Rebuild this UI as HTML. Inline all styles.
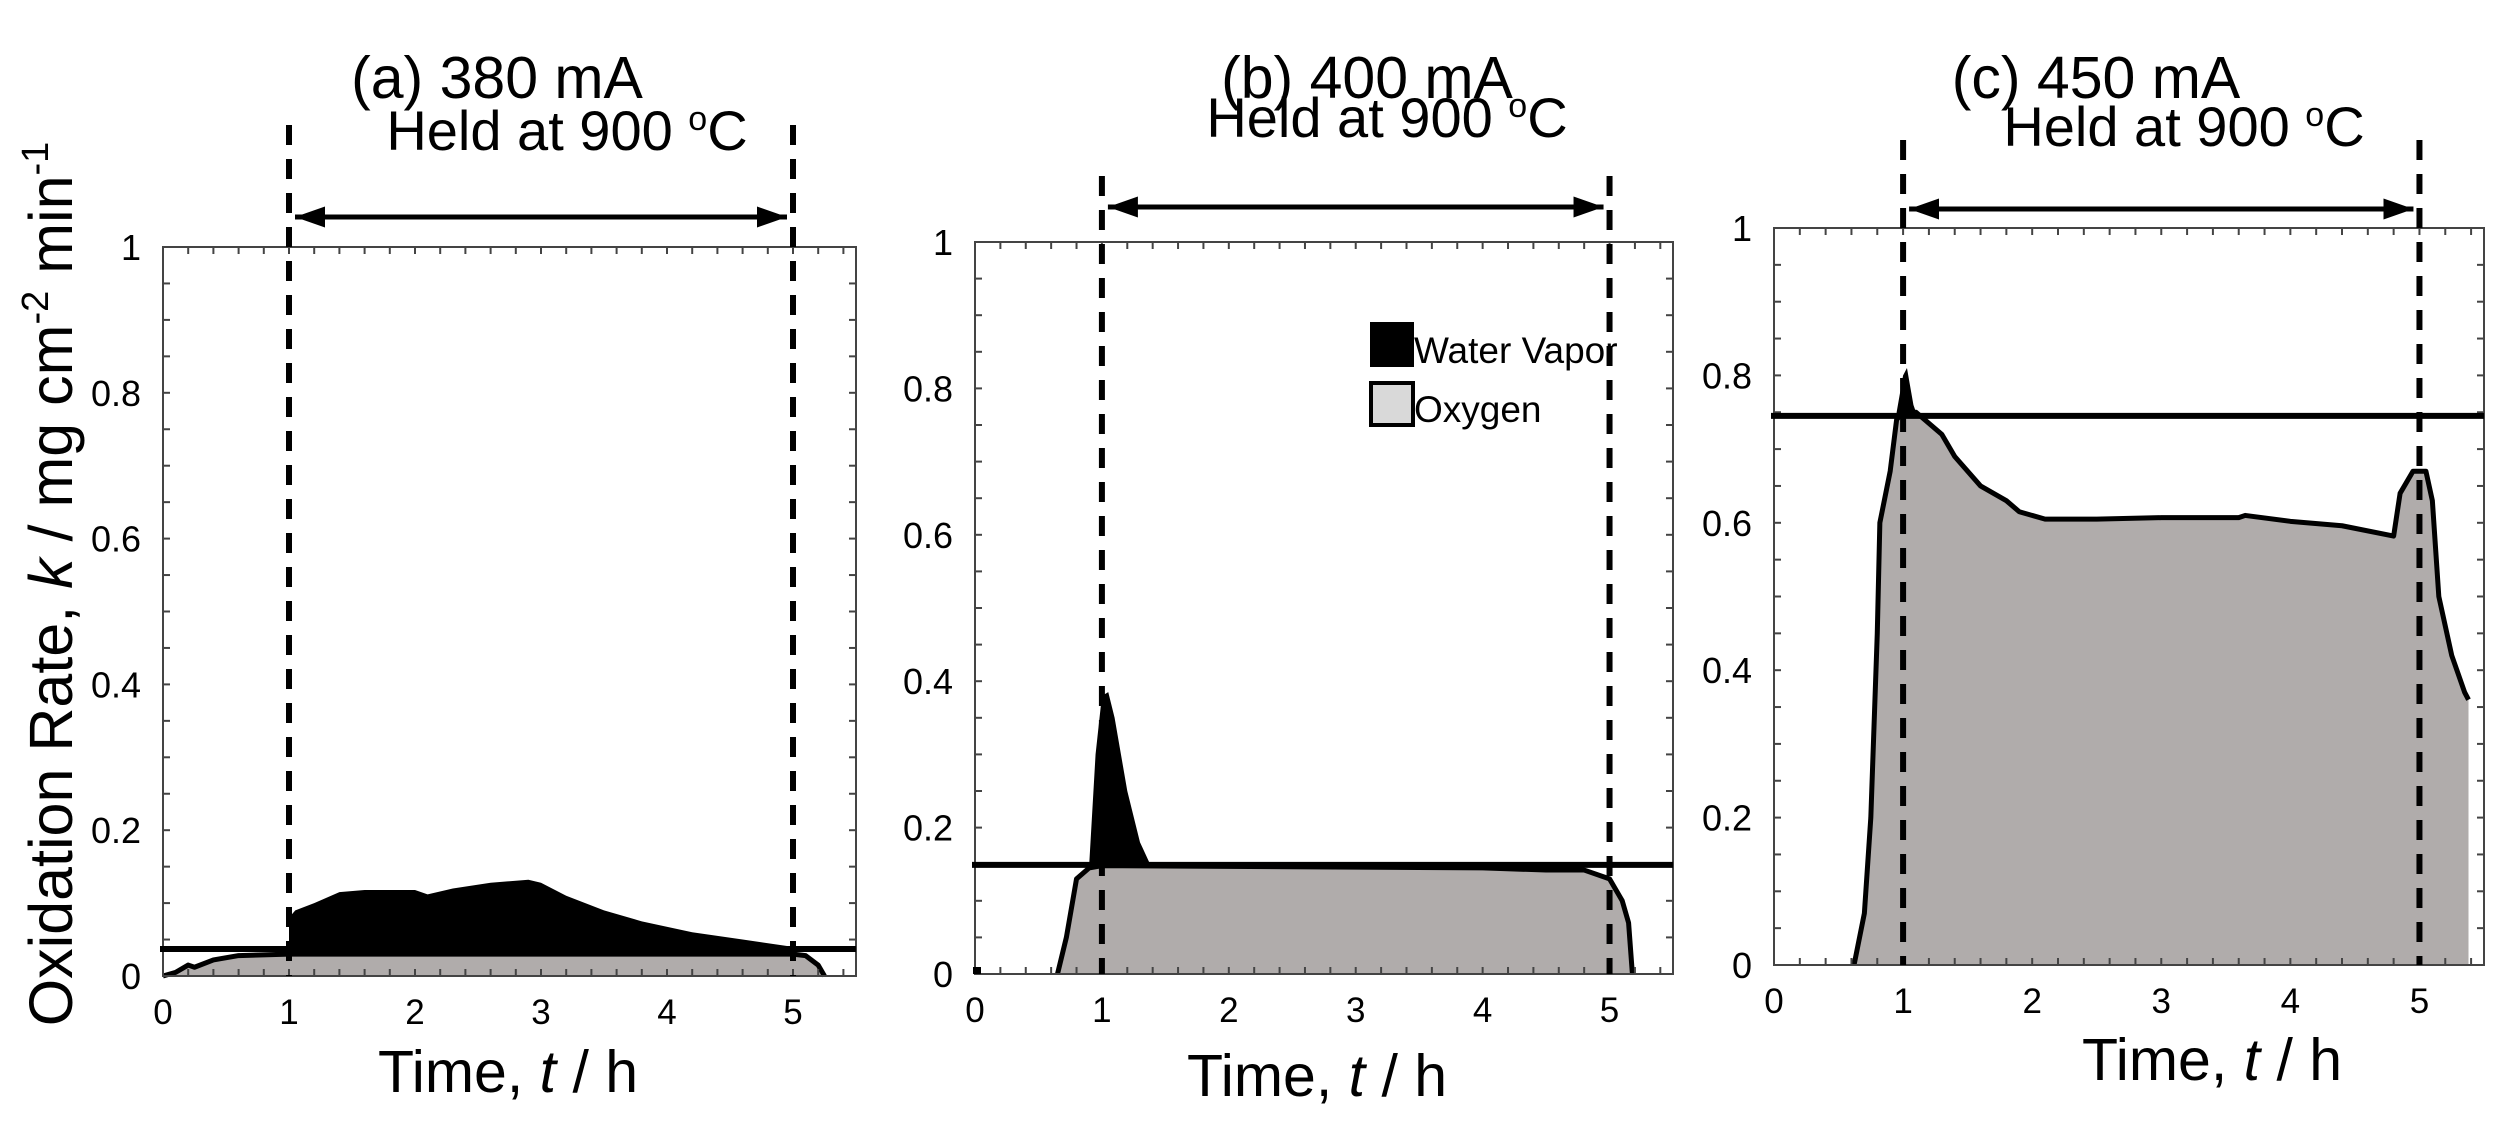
<!DOCTYPE html>
<html><head><meta charset="utf-8"><style>
html,body{margin:0;padding:0;background:#fff;}
svg{display:block;font-family:"Liberation Sans",sans-serif;}
</style></head><body>
<svg id="fig" width="2514" height="1126" viewBox="0 0 2514 1126" xmlns="http://www.w3.org/2000/svg"></svg>
<script>
// ---- data ----
const panelTitles = ["(a) 380 mA", "(b) 400 mA", "(c) 450 mA"];
const xTicks = [0, 1, 2, 3, 4, 5];
const yTicks = [0, 0.2, 0.4, 0.6, 0.8, 1];
const yTickLabels = ["0", "0.2", "0.4", "0.6", "0.8", "1"];
const holdStart = 1, holdEnd = 5;
const refLevels = [0.037, 0.149, 0.745];

const oxyT_a = [0, 0.1, 0.2, 0.25, 0.4, 0.6, 1, 5, 5.1, 5.2, 5.25];
const oxyV_a = [0, 0.005, 0.015, 0.012, 0.022, 0.028, 0.03, 0.03, 0.028, 0.015, 0];
const wvT_a = [1, 1.05, 1.2, 1.4, 1.6, 2.0, 2.1, 2.3, 2.6, 2.9, 3.0, 3.2, 3.5, 3.8, 4.2, 4.6, 5.0];
const wvV_a = [0.08, 0.09, 0.1, 0.115, 0.118, 0.118, 0.112, 0.12, 0.128, 0.132, 0.128, 0.11, 0.09, 0.075, 0.06, 0.05, 0.04];

const oxyT_b = [0.65, 0.72, 0.8, 0.9, 1, 2, 3, 4, 4.5, 4.8, 5.0, 5.1, 5.15, 5.18];
const oxyV_b = [0, 0.05, 0.13, 0.145, 0.148, 0.147, 0.146, 0.145, 0.142, 0.142, 0.13, 0.1, 0.07, 0];
const wvT_b = [0.9, 0.95, 1.0, 1.05, 1.1, 1.2, 1.3, 1.38];
const wvV_b = [0.15, 0.3, 0.38, 0.385, 0.35, 0.25, 0.18, 0.15];

const oxyT_c = [0.62, 0.7, 0.75, 0.8, 0.82, 0.9, 0.95, 1.0, 1.1, 1.3, 1.4, 1.6, 1.8, 1.9, 2.1, 2.5, 3.0, 3.6, 3.65, 4.0, 4.4, 4.8, 4.85, 4.95, 5.05, 5.1, 5.15, 5.25, 5.35, 5.38];
const oxyV_c = [0, 0.07, 0.2, 0.45, 0.6, 0.67, 0.74, 0.75, 0.75, 0.72, 0.69, 0.65, 0.63, 0.615, 0.605, 0.605, 0.607, 0.607, 0.61, 0.602, 0.596, 0.582, 0.64, 0.67, 0.67, 0.63, 0.5, 0.42, 0.37, 0.36];
const wvT_c = [0.95, 1.0, 1.03, 1.08, 1.1];
const wvV_c = [0.75, 0.8, 0.81, 0.76, 0.75];

const panels = [
 {L:163, R:856, T:247, B:976, dashTop:125, arrowY:217, titleX:497, titleY:98, heldX:567, heldY:150, xlabX:508, xlabY:1092,
  oxyT:oxyT_a, oxyV:oxyV_a, wvT:wvT_a, wvV:wvV_a},
 {L:975, R:1673, T:242, B:974, dashTop:176, arrowY:207, titleX:1367, titleY:98, heldX:1387, heldY:137, xlabX:1317, xlabY:1096,
  oxyT:oxyT_b, oxyV:oxyV_b, wvT:wvT_b, wvV:wvV_b},
 {L:1774, R:2484, T:228, B:965, dashTop:140, arrowY:209, titleX:2096, titleY:98, heldX:2184, heldY:146, xlabX:2212, xlabY:1080,
  oxyT:oxyT_c, oxyV:oxyV_c, wvT:wvT_c, wvV:wvV_c}
];

const NS = "http://www.w3.org/2000/svg";
const svg = document.getElementById("fig");
function mk(tag, attrs, parent, text){
  const e = document.createElementNS(NS, tag);
  for (const k in attrs) e.setAttribute(k, attrs[k]);
  if (text !== undefined) e.textContent = text;
  (parent || svg).appendChild(e);
  return e;
}

const defs = mk("defs", {});
const mEnd = mk("marker", {id:"ah", viewBox:"0 0 10 10", refX:"10", refY:"5", markerWidth:"6", markerHeight:"6", orient:"auto-start-reverse", markerUnits:"strokeWidth"}, defs);
mk("path", {d:"M0,1.5 L10,5 L0,8.5 Z", fill:"#000"}, mEnd);

const yt = mk("text", {x:0, y:0, "font-size":"61", "text-anchor":"middle", transform:"translate(72,584) rotate(-90)"});


mk("tspan", {}, yt, "Oxidation Rate, ");
mk("tspan", {"font-style":"italic"}, yt, "k");
mk("tspan", {}, yt, " / mg cm");
mk("tspan", {"font-size":"38", dy:"-24"}, yt, "-2");
mk("tspan", {dy:"24"}, yt, " min");
mk("tspan", {"font-size":"38", dy:"-24"}, yt, "-1");

panels.forEach((p, i) => {
  const g = mk("g", {});
  
  
  const unit = (p.R - p.L) / 5.5;
  const sx = t => p.L + t * unit;
  const sy = v => p.B - v * (p.B - p.T);

  let d = "M" + sx(p.oxyT[0]) + "," + sy(0);
  p.oxyT.forEach((t, k) => { d += " L" + sx(t) + "," + sy(p.oxyV[k]); });
  d += " L" + sx(p.oxyT[p.oxyT.length-1]) + "," + sy(0) + " Z";
  const oa = mk("path", {d:d, fill:"#b0acab"}, g);
  
  

  const interp = t => {
    const T = p.oxyT, V = p.oxyV;
    if (t <= T[0]) return 0;
    for (let k = 1; k < T.length; k++) if (t <= T[k]) return V[k-1] + (V[k]-V[k-1])*(t-T[k-1])/(T[k]-T[k-1]);
    return 0;
  };
  let dw = "";
  p.wvT.forEach((t, k) => { dw += (k ? " L" : "M") + sx(t) + "," + sy(p.wvV[k]); });
  for (let k = p.wvT.length - 1; k >= 0; k--) dw += " L" + sx(p.wvT[k]) + "," + sy(Math.min(interp(p.wvT[k]), p.wvV[k]));
  dw += " Z";
  const wa = mk("path", {d:dw, fill:"#000"}, g);
  
  

  let dl = "";
  p.oxyT.forEach((t, k) => { dl += (k ? " L" : "M") + sx(t) + "," + sy(p.oxyV[k]); });
  const ol = mk("path", {d:dl, fill:"none", stroke:"#000", "stroke-width":"5", "stroke-linejoin":"round"}, g);
  
  

  const fr = mk("rect", {x:p.L, y:p.T, width:p.R-p.L, height:p.B-p.T, fill:"none", stroke:"#444", "stroke-width":"2"}, g);
  
  
  for (let t = 0; t <= 5.5001; t += 0.2) {
    const x = sx(t);
    mk("line", {x1:x, y1:p.B, x2:x, y2:p.B-7, stroke:"#444", "stroke-width":"2"}, g);
    mk("line", {x1:x, y1:p.T, x2:x, y2:p.T+7, stroke:"#444", "stroke-width":"2"}, g);
  }
  for (let v = 0; v <= 1.0001; v += 0.05) {
    const y = sy(v);
    mk("line", {x1:p.L, y1:y, x2:p.L+7, y2:y, stroke:"#444", "stroke-width":"2"}, g);
    mk("line", {x1:p.R, y1:y, x2:p.R-7, y2:y, stroke:"#444", "stroke-width":"2"}, g);
  }
  xTicks.forEach(t => {
    const tl = mk("text", {x:sx(t), y:p.B+48, "font-size":"35", "text-anchor":"middle"}, g, String(t));
    
    
  });
  yTicks.forEach((v, k) => {
    const tl = mk("text", {x:p.L-22, y:sy(v)+13, "font-size":"36", "text-anchor":"end"}, g, yTickLabels[k]);
    
    
  });

  const rl = mk("line", {x1:p.L-3, y1:sy(refLevels[i]), x2:p.R, y2:sy(refLevels[i]), stroke:"#000", "stroke-width":"6"}, g);
  
  

  [holdStart, holdEnd].forEach(t => {
    const dl2 = mk("line", {x1:sx(t), y1:p.dashTop, x2:sx(t), y2:p.B, stroke:"#000", "stroke-width":"6", "stroke-dasharray":"20 14"}, g);
    
    
  });
  const ar = mk("line", {x1:sx(holdStart)+6, y1:p.arrowY, x2:sx(holdEnd)-6, y2:p.arrowY, stroke:"#000", "stroke-width":"5", "marker-start":"url(#ah)", "marker-end":"url(#ah)"}, g);
  
  

  const ti = mk("text", {x:p.titleX, y:p.titleY, "font-size":"59", "text-anchor":"middle"}, g, panelTitles[i]);
  
  
  const he = mk("text", {x:p.heldX, y:p.heldY, "font-size":"56", "text-anchor":"middle"}, g);
  
  
  mk("tspan", {}, he, "Held at 900 ");
  mk("tspan", {"font-size":"34", dy:"-20"}, he, "o");
  mk("tspan", {dy:"20"}, he, "C");
  const xl = mk("text", {x:p.xlabX, y:p.xlabY, "font-size":"59", "text-anchor":"middle"}, g);
  
  
  mk("tspan", {}, xl, "Time, ");
  mk("tspan", {"font-style":"italic"}, xl, "t");
  mk("tspan", {}, xl, " / h");

  if (i === 1) {
    mk("rect", {x:sx(0)-2, y:p.B-7, width:8, height:7, fill:"#000"}, g);
    const lg = mk("g", {}, g);
    
    
    mk("rect", {x:1370, y:322, width:44, height:45, fill:"#000"}, lg);
    const t1 = mk("text", {x:1414, y:363, "font-size":"37"}, lg, "Water Vapor");
    
    
    mk("rect", {x:1371, y:383, width:42, height:42, fill:"#d9d9d9", stroke:"#000", "stroke-width":"4"}, lg);
    const t2 = mk("text", {x:1414, y:422, "font-size":"37"}, lg, "Oxygen");
    
    
  }
});
</script>
</body></html>
